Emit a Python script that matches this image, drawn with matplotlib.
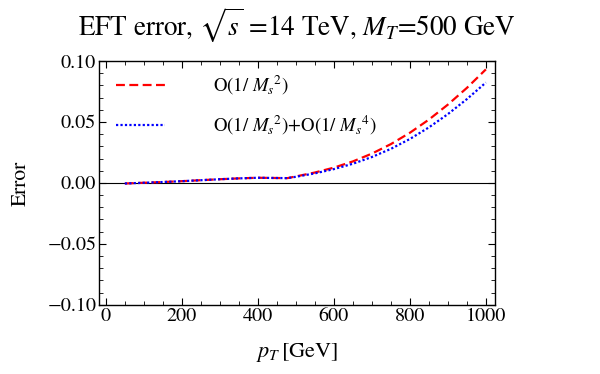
import numpy as np
import matplotlib
matplotlib.use('Agg')
import matplotlib.pyplot as plt
from matplotlib.ticker import MultipleLocator

plt.rcParams['font.family'] = 'STIXGeneral'
plt.rcParams['mathtext.fontset'] = 'stix'

# pT values [GeV]
pt = [50, 100, 150, 200, 250, 300, 350, 400, 450, 478, 500, 550, 600, 650,
      700, 750, 800, 850, 900, 950, 1000]
# O(1/Ms^2)
err_ms2 = [-0.0005, 0.0001, 0.0007, 0.0014, 0.0022, 0.0030, 0.0037, 0.0042, 0.0040, 0.0039,
           0.0053, 0.0085, 0.0125, 0.0176, 0.0240, 0.0318, 0.0411, 0.0519, 0.0642, 0.0779, 0.0931]
# O(1/Ms^2)+O(1/Ms^4)
err_ms4 = [-0.0005, 0.0001, 0.0007, 0.0014, 0.0022, 0.0030, 0.0037, 0.0042, 0.0040, 0.0039,
           0.0050, 0.0078, 0.0113, 0.0157, 0.0212, 0.0279, 0.0360, 0.0455, 0.0564, 0.0687, 0.0823]

fig = plt.figure(figsize=(6, 3.74), dpi=100)
ax = fig.add_axes([0.165, 0.185, 0.66, 0.652])

ax.axhline(0, color='black', lw=0.8, zorder=1)
l1, = ax.plot(pt, err_ms2, color='red', ls=(0, (4, 2)), lw=1.6)
l2, = ax.plot(pt, err_ms4, color='blue', ls=(0, (1, 1)), lw=1.6)

ax.set_xlim(-18, 1024)
ax.set_ylim(-0.1, 0.1)
ax.xaxis.set_major_locator(MultipleLocator(200))
ax.xaxis.set_minor_locator(MultipleLocator(50))
ax.yaxis.set_major_locator(MultipleLocator(0.05))
ax.yaxis.set_minor_locator(MultipleLocator(0.01))
ax.set_yticks([-0.1, -0.05, 0, 0.05, 0.1])
ax.set_yticklabels(['\u22120.10', '\u22120.05', '0.00', '0.05', '0.10'])
ax.tick_params(which='both', direction='in', top=True, right=True, labelsize=14.5, pad=2)
ax.tick_params(which='major', length=5, width=0.8)
ax.tick_params(which='minor', length=3, width=0.6)
for s in ax.spines.values():
    s.set_linewidth(1.0)

ax.set_xlabel(r'$p_T\,$[GeV]', fontsize=16, labelpad=12)
ax.set_ylabel('Error', fontsize=15.5, labelpad=12)
ax.set_title(r'EFT error, $\sqrt{s}$ =14 TeV, $M_T$=500 GeV', fontsize=19.5, pad=18)

leg = ax.legend([l1, l2], [r'O(1/ $M_s{}^2$)', r'O(1/ $M_s{}^2$)+O(1/ $M_s{}^4$)'],
                loc='upper left', frameon=False, fontsize=13.5, handlelength=2.6,
                handletextpad=2.6, labelspacing=0.85, bbox_to_anchor=(0.0, 1.015))

fig.savefig('out.png', dpi=100)
